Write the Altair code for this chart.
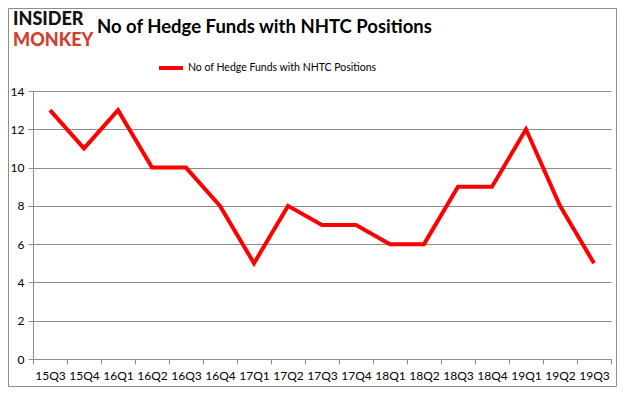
import altair as alt
import pandas as pd

quarters = ["15Q3", "15Q4", "16Q1", "16Q2", "16Q3", "16Q4", "17Q1", "17Q2", "17Q3",
            "17Q4", "18Q1", "18Q2", "18Q3", "18Q4", "19Q1", "19Q2", "19Q3"]
values = [13, 11, 13, 10, 10, 8, 5, 8, 7, 7, 6, 6, 9, 9, 12, 8, 5]
series_name = "No of Hedge Funds with NHTC Positions"
chart_title = "No of Hedge Funds with NHTC Positions"
y_ticks = [0, 2, 4, 6, 8, 10, 12, 14]

df = pd.DataFrame({"quarter": quarters, "value": values, "series": [series_name] * len(quarters)})

W, H = 578, 268
PL, PT, PR, PB = 25, 83, 6, 28
FONT = "Lato"

line = alt.Chart(df).mark_line(strokeWidth=4, strokeJoin="miter").encode(
    x=alt.X("quarter:N", sort=quarters,
            scale=alt.Scale(type="band", paddingInner=0, paddingOuter=0),
            axis=alt.Axis(title=None, labelAngle=0, tickBand="extent", grid=False,
                          domainColor="#8c8c8c", tickColor="#8c8c8c", tickSize=5,
                          labelFont=FONT, labelFontSize=12, labelColor="#000000",
                          labelPadding=6)),
    y=alt.Y("value:Q", scale=alt.Scale(domain=[0, 14], nice=False),
            axis=alt.Axis(title=None, values=y_ticks, grid=True, gridColor="#8c8c8c",
                          domainColor="#8c8c8c", tickColor="#8c8c8c", tickSize=5,
                          labelFont=FONT, labelFontSize=12, labelColor="#000000",
                          labelPadding=4)),
    color=alt.Color("series:N", scale=alt.Scale(range=["#ff0000"]),
                    legend=alt.Legend(title=None, orient="none", legendX=124, legendY=-37,
                                      symbolType="stroke", symbolStrokeWidth=4,
                                      symbolSize=576, labelFont=FONT, labelFontSize=10.5,
                                      labelColor="#000000", labelOffset=3, labelLimit=400)),
)

title_df = pd.DataFrame({"t": [chart_title]})
title = alt.Chart(title_df).mark_text(align="left", baseline="middle", fontSize=18.5,
                                      fontWeight="bold", font=FONT, color="#000000").encode(
    x=alt.value(64), y=alt.value(-64), text="t:N")

logo1 = alt.Chart(pd.DataFrame({"t": ["INSIDER"]})).mark_text(
    align="left", baseline="middle", fontSize=18, fontWeight=900,
    font=FONT, color="#111111").encode(x=alt.value(-20), y=alt.value(-71), text="t:N")
logo2 = alt.Chart(pd.DataFrame({"t": ["MONKEY"]})).mark_text(
    align="left", baseline="middle", fontSize=18, fontWeight=900,
    font=FONT, color="#d0402c").encode(x=alt.value(-20), y=alt.value(-50), text="t:N")

border = alt.Chart(pd.DataFrame({"a": [0]})).mark_rect(
    fill=None, stroke="#8c8c8c", strokeWidth=1).encode(
    x=alt.value(-PL + 0.5), x2=alt.value(W + PR - 0.5),
    y=alt.value(-PT + 0.5), y2=alt.value(H + PB - 0.5))

chart = alt.layer(border, line, title, logo1, logo2).properties(
    width=W, height=H,
    autosize=alt.AutoSizeParams(type="none"),
    padding={"left": PL, "top": PT, "right": PR, "bottom": PB},
).configure_view(stroke=None)

chart.save("out.html", embed_options={"renderer": "svg", "actions": False})
